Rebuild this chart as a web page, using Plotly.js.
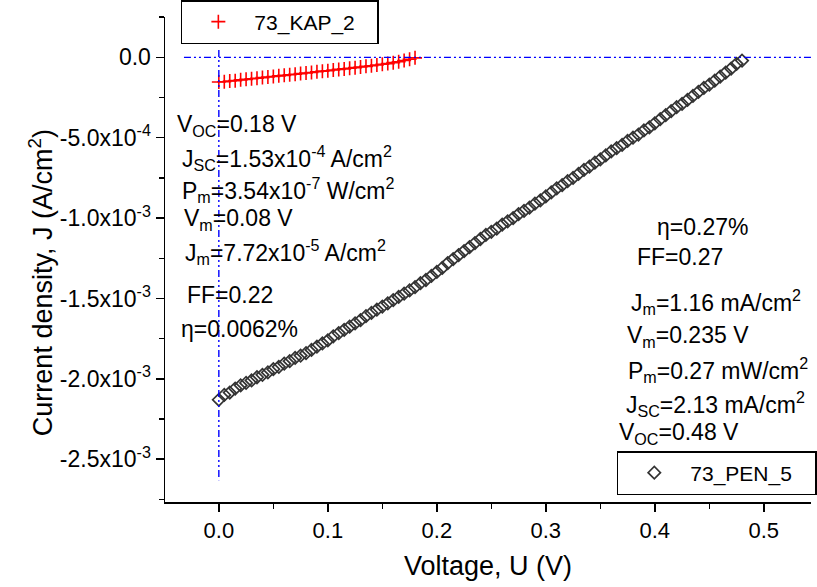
<!DOCTYPE html>
<html>
<head>
<meta charset="utf-8">
<script src="https://cdn.plot.ly/plotly-3.0.1.min.js"></script>
<style>html,body{margin:0;padding:0;background:#fff;}#chart{width:817px;height:587px;}</style>
</head>
<body>
<div id="chart"></div>
<script>
// ---- Data ----
const kapV = [0.000,0.005,0.010,0.015,0.020,0.025,0.030,0.035,0.040,0.045,0.050,0.055,0.060,0.065,0.070,0.075,0.080,0.085,0.090,0.095,0.100,0.105,0.110,0.115,0.120,0.125,0.130,0.135,0.140,0.145,0.150,0.155,0.160,0.165,0.170,0.175,0.180];
const kapJ = [-1.53e-4,-1.52e-4,-1.47e-4,-1.45e-4,-1.40e-4,-1.37e-4,-1.33e-4,-1.30e-4,-1.26e-4,-1.22e-4,-1.19e-4,-1.15e-4,-1.12e-4,-1.08e-4,-1.05e-4,-1.01e-4,-0.97e-4,-0.94e-4,-0.90e-4,-0.86e-4,-0.83e-4,-0.79e-4,-0.75e-4,-0.72e-4,-0.68e-4,-0.64e-4,-0.60e-4,-0.56e-4,-0.52e-4,-0.48e-4,-0.43e-4,-0.39e-4,-0.33e-4,-0.27e-4,-0.20e-4,-0.12e-4,-0.03e-4];

const penV = [0.000,0.005,0.010,0.015,0.020,0.025,0.030,0.035,0.040,0.045,0.050,0.055,0.060,0.065,0.070,0.075,0.080,0.085,0.090,0.095,
  0.100,0.105,0.110,0.115,0.120,0.125,0.130,0.135,0.140,0.145,0.150,0.155,0.160,0.165,0.170,0.175,0.180,0.185,0.190,0.195,
  0.200,0.205,0.210,0.215,0.220,0.225,0.230,0.235,0.240,0.245,0.250,0.255,0.260,0.265,0.270,0.275,0.280,0.285,0.290,0.295,
  0.300,0.305,0.310,0.315,0.320,0.325,0.330,0.335,0.340,0.345,0.350,0.355,0.360,0.365,0.370,0.375,0.380,0.385,0.390,0.395,
  0.400,0.405,0.410,0.415,0.420,0.425,0.430,0.435,0.440,0.445,0.450,0.455,0.460,0.465,0.470,0.475,0.480];
const penJ = [-2.13e-3,-2.10e-3,-2.085e-3,-2.06e-3,-2.04e-3,-2.025e-3,-2.01e-3,-1.99e-3,-1.975e-3,-1.96e-3,-1.94e-3,-1.925e-3,-1.905e-3,-1.89e-3,-1.87e-3,-1.855e-3,-1.84e-3,-1.82e-3,-1.80e-3,-1.78e-3,
  -1.76e-3,-1.735e-3,-1.715e-3,-1.695e-3,-1.675e-3,-1.655e-3,-1.635e-3,-1.61e-3,-1.59e-3,-1.57e-3,-1.55e-3,-1.53e-3,-1.51e-3,-1.49e-3,-1.47e-3,-1.45e-3,-1.43e-3,-1.405e-3,-1.385e-3,-1.36e-3,
  -1.335e-3,-1.31e-3,-1.28e-3,-1.255e-3,-1.23e-3,-1.205e-3,-1.18e-3,-1.155e-3,-1.13e-3,-1.105e-3,-1.085e-3,-1.065e-3,-1.04e-3,-1.02e-3,-1.00e-3,-0.975e-3,-0.955e-3,-0.935e-3,-0.91e-3,-0.89e-3,
  -0.865e-3,-0.84e-3,-0.815e-3,-0.795e-3,-0.77e-3,-0.75e-3,-0.725e-3,-0.70e-3,-0.68e-3,-0.655e-3,-0.635e-3,-0.61e-3,-0.585e-3,-0.565e-3,-0.545e-3,-0.52e-3,-0.50e-3,-0.48e-3,-0.455e-3,-0.435e-3,
  -0.41e-3,-0.385e-3,-0.36e-3,-0.335e-3,-0.31e-3,-0.29e-3,-0.265e-3,-0.24e-3,-0.215e-3,-0.19e-3,-0.17e-3,-0.145e-3,-0.12e-3,-0.095e-3,-0.07e-3,-0.04e-3,-0.02e-3];

const yTickVals = [0, -5e-4, -1e-3, -1.5e-3, -2e-3, -2.5e-3];
const yTickText = ['0.0', '-5.0x10<sup>-4</sup>', '-1.0x10<sup>-3</sup>', '-1.5x10<sup>-3</sup>', '-2.0x10<sup>-3</sup>', '-2.5x10<sup>-3</sup>'];
const yMinorVals = [2.5e-4, -2.5e-4, -7.5e-4, -1.25e-3, -1.75e-3, -2.25e-3, -2.75e-3];

const xTitle = 'Voltage, U (V)';
const yTitle = 'Current density, J (A/cm<sup>2</sup>)';

const leftNotes = [
  'V<sub>OC</sub>=0.18 V',
  'J<sub>SC</sub>=1.53x10<sup>-4</sup> A/cm<sup>2</sup>',
  'P<sub>m</sub>=3.54x10<sup>-7</sup> W/cm<sup>2</sup>',
  'V<sub>m</sub>=0.08 V',
  'J<sub>m</sub>=7.72x10<sup>-5</sup> A/cm<sup>2</sup>',
  'FF=0.22',
  'η=0.0062%'
];
const rightNotes = [
  'η=0.27%',
  'FF=0.27',
  'J<sub>m</sub>=1.16 mA/cm<sup>2</sup>',
  'V<sub>m</sub>=0.235 V',
  'P<sub>m</sub>=0.27 mW/cm<sup>2</sup>',
  'J<sub>SC</sub>=2.13 mA/cm<sup>2</sup>',
  'V<sub>OC</sub>=0.48 V'
];

// ---- layout helpers (pixel positions -> paper) ----
const W = 817, H = 587, ML = 165, MR = 0, MT = 17, MB = 85;
const PW = W - ML - MR, PH = H - MT - MB;
const px = x => (x - ML) / PW;
const py = y => (H - MB - y) / PH;

const leftPos = [[175,126],[180,158],[180,190],[182,220],[183,252],[185,295],[179,329]];
const rightPos = [[660,227],[639,257],[633,302],[629,336],[630,370],[628,404],[621,433]];

const FONT = 'Liberation Sans, Arial, sans-serif';
const NOTE = 23;
const annotations = [];
leftNotes.forEach((t, i) => annotations.push({
  text: t, xref: 'paper', yref: 'paper', x: px(leftPos[i][0]), y: py(leftPos[i][1]),
  xanchor: 'left', yanchor: 'middle', showarrow: false, font: {family: FONT, size: NOTE, color: '#000'}
}));
rightNotes.forEach((t, i) => annotations.push({
  text: t, xref: 'paper', yref: 'paper', x: px(rightPos[i][0]), y: py(rightPos[i][1]),
  xanchor: 'left', yanchor: 'middle', showarrow: false, font: {family: FONT, size: NOTE, color: '#000'}
}));
// y-axis title (placed lower than the axis centre, as in the reference)
annotations.push({
  text: yTitle, xref: 'paper', yref: 'paper', x: px(40), y: py(283),
  xanchor: 'center', yanchor: 'middle', textangle: -90, showarrow: false,
  font: {family: FONT, size: 27, color: '#000'}
});

const traces = [
  {
    x: kapV, y: kapJ, name: '73_KAP_2\u00a0\u00a0\u00a0', type: 'scatter', mode: 'markers',
    marker: {symbol: 'cross-thin', size: 10, color: '#ff0000', line: {color: '#ff0000', width: 1.6}},
    legend: 'legend'
  },
  {
    x: penV, y: penJ, name: '73_PEN_5\u00a0\u00a0\u00a0', type: 'scatter', mode: 'markers',
    marker: {symbol: 'diamond-open', size: 9.5, color: '#333333', line: {color: '#333333', width: 1.7}},
    legend: 'legend2'
  }
];

const dashPat = '7px,3px,2px,3px,2px,3px';
const legendCommon = {
  xanchor: 'left', yanchor: 'top', orientation: 'v',
  bgcolor: '#fff', bordercolor: '#000', borderwidth: 1.5,
  font: {family: FONT, size: 21}, itemwidth: 62, tracegroupgap: 0
};
const layout = {
  width: W, height: H,
  margin: {l: ML, r: MR, t: MT, b: MB, pad: 0},
  paper_bgcolor: '#fff', plot_bgcolor: '#fff',
  font: {family: FONT, size: 22, color: '#000'},
  showlegend: true,
  xaxis: {
    range: [-0.0494, 0.5433], tickmode: 'linear', tick0: 0, dtick: 0.1, tickformat: '.1f',
    ticks: 'outside', ticklen: 8, tickwidth: 1.5, tickcolor: '#000',
    minor: {tickmode: 'linear', tick0: 0, dtick: 0.05, ticks: 'outside', ticklen: 5, tickwidth: 1.5, tickcolor: '#000'},
    showline: true, linecolor: '#000', linewidth: 1.5, showgrid: false, zeroline: false,
    tickfont: {family: FONT, size: 22},
    title: {text: xTitle, font: {family: FONT, size: 27}, standoff: 14}
  },
  yaxis: {
    range: [-2.766e-3, 2.51e-4], tickmode: 'array', tickvals: yTickVals, ticktext: yTickText,
    ticks: 'outside', ticklen: 8, tickwidth: 1.5, tickcolor: '#000',
    minor: {tickmode: 'array', tickvals: yMinorVals, ticks: 'outside', ticklen: 5, tickwidth: 1.5, tickcolor: '#000'},
    showline: true, linecolor: '#000', linewidth: 1.5, showgrid: false, zeroline: false,
    tickfont: {family: FONT, size: 23}
  },
  legend: Object.assign({x: px(181), y: py(0)}, legendCommon),
  legend2: Object.assign({x: px(621), y: py(451)}, legendCommon),
  shapes: [
    {type: 'line', xref: 'x', yref: 'y', x0: -0.032, x1: 0.5433, y0: 0, y1: 0,
     line: {color: '#0000ff', width: 1.4, dash: dashPat}},
    {type: 'line', xref: 'x', yref: 'y', x0: 0, x1: 0, y0: 4.5e-5, y1: -2.63e-3,
     line: {color: '#0000ff', width: 1.4, dash: dashPat}}
  ],
  annotations: annotations
};

Plotly.newPlot('chart', traces, layout, {displayModeBar: false, staticPlot: true});
</script>
</body>
</html>
